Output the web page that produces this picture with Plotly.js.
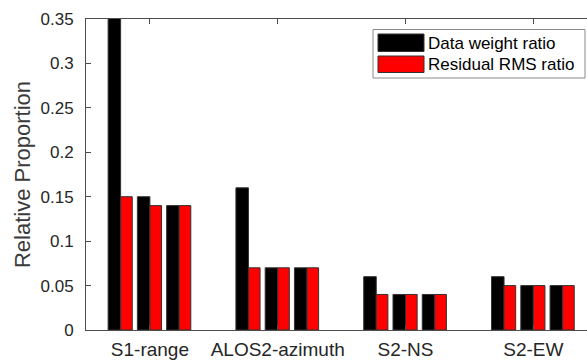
<!DOCTYPE html>
<html><head><meta charset="utf-8">
<script src="https://cdn.plot.ly/plotly-3.0.1.min.js"></script>
<style>html,body{margin:0;padding:0;background:#fff}#chart{width:587px;height:361px}</style>
</head><body><div id="chart"></div>
<script>
// ---- data ----
const categories = ['S1-range', 'ALOS2-azimuth', 'S2-NS', 'S2-EW'];
const seriesNames = ['Data weight ratio', 'Residual RMS ratio'];
const dataWeight1 = [0.40, 0.16, 0.06, 0.06];
const rmsRatio1   = [0.15, 0.07, 0.04, 0.05];
const dataWeight2 = [0.15, 0.07, 0.04, 0.05];
const rmsRatio2   = [0.14, 0.07, 0.04, 0.05];
const dataWeight3 = [0.14, 0.07, 0.04, 0.05];
const rmsRatio3   = [0.14, 0.07, 0.04, 0.05];
const yTickVals   = [0, 0.05, 0.1, 0.15, 0.2, 0.25, 0.3, 0.35];
const yTickLabels = ['0', '0.05', '0.1', '0.15', '0.2', '0.25', '0.3', '0.35'];

// ---- style ----
const FONT = 'Liberation Sans, Arial, Helvetica, sans-serif';
const TXT = '#262626';
const AX = '#4d4d4d';
const colors = ['#000000', '#ff0000'];
const edge = '#333333';
const pairShift = [-0.229, 0, 0.229];
const blackW = 0.098, redW = 0.091;

const pairs = [[dataWeight1, rmsRatio1], [dataWeight2, rmsRatio2], [dataWeight3, rmsRatio3]];
const traces = [];
pairs.forEach((pr, i) => {
  traces.push({type: 'bar', x: categories, y: pr[0], name: seriesNames[0],
    offset: pairShift[i] - blackW, width: blackW, showlegend: false,
    marker: {color: colors[0], line: {color: edge, width: 1}}, hoverinfo: 'y'});
  traces.push({type: 'bar', x: categories, y: pr[1], name: seriesNames[1],
    offset: pairShift[i], width: redW, showlegend: false,
    marker: {color: colors[1], line: {color: edge, width: 1}}, hoverinfo: 'y'});
});

// plot area in pixels: left 86, right 587, top 19, bottom 330
const L = 86, R = 587, T = 19, B = 330;
const px = x => (x - L) / (R - L);
const py = y => (B - y) / (B - T);

const shapes = [
  {type: 'rect', xref: 'paper', yref: 'paper', x0: px(373), x1: px(585), y0: py(78), y1: py(29.5),
   fillcolor: '#ffffff', line: {color: '#8a8a8a', width: 1}},
  {type: 'rect', xref: 'paper', yref: 'paper', x0: px(378), x1: px(424), y0: py(51.5), y1: py(34),
   fillcolor: colors[0], line: {color: edge, width: 1}},
  {type: 'rect', xref: 'paper', yref: 'paper', x0: px(378), x1: px(424), y0: py(72.5), y1: py(56),
   fillcolor: colors[1], line: {color: edge, width: 1}}
];
const annotations = [
  {xref: 'paper', yref: 'paper', x: px(426), y: py(43), xanchor: 'left', yanchor: 'middle',
   text: seriesNames[0], showarrow: false, font: {family: FONT, size: 17, color: '#000'}},
  {xref: 'paper', yref: 'paper', x: px(426), y: py(64.5), xanchor: 'left', yanchor: 'middle',
   text: seriesNames[1], showarrow: false, font: {family: FONT, size: 17, color: '#000'}}
];

const layout = {
  width: 587, height: 361,
  margin: {l: L, r: 587 - R, t: T, b: 361 - B, pad: 0},
  paper_bgcolor: '#fff', plot_bgcolor: '#fff',
  barmode: 'overlay',
  showlegend: false,
  font: {family: FONT, size: 17, color: TXT},
  xaxis: {
    type: 'category', categoryorder: 'array', categoryarray: categories,
    range: [-0.5, 3.42], showgrid: false, zeroline: false,
    showline: true, linecolor: AX, linewidth: 1, mirror: 'ticks',
    ticks: 'inside', ticklen: 5, tickcolor: AX, tickwidth: 1,
    ticklabelstandoff: 2,
    tickfont: {family: FONT, size: 19, color: TXT}
  },
  yaxis: {
    range: [0, 0.35], tickmode: 'array', tickvals: yTickVals, ticktext: yTickLabels,
    showgrid: false, zeroline: false,
    showline: true, linecolor: AX, linewidth: 1, mirror: false,
    ticks: 'inside', ticklen: 5, tickcolor: AX, tickwidth: 1,
    ticklabelstandoff: 8,
    tickfont: {family: FONT, size: 17, color: TXT},
    title: {text: 'Relative Proportion', font: {family: FONT, size: 22, color: '#3a3a3a'}, standoff: 3}
  },
  shapes: shapes,
  annotations: annotations
};

Plotly.newPlot('chart', traces, layout, {displayModeBar: false, staticPlot: true});
</script>
</body></html>
